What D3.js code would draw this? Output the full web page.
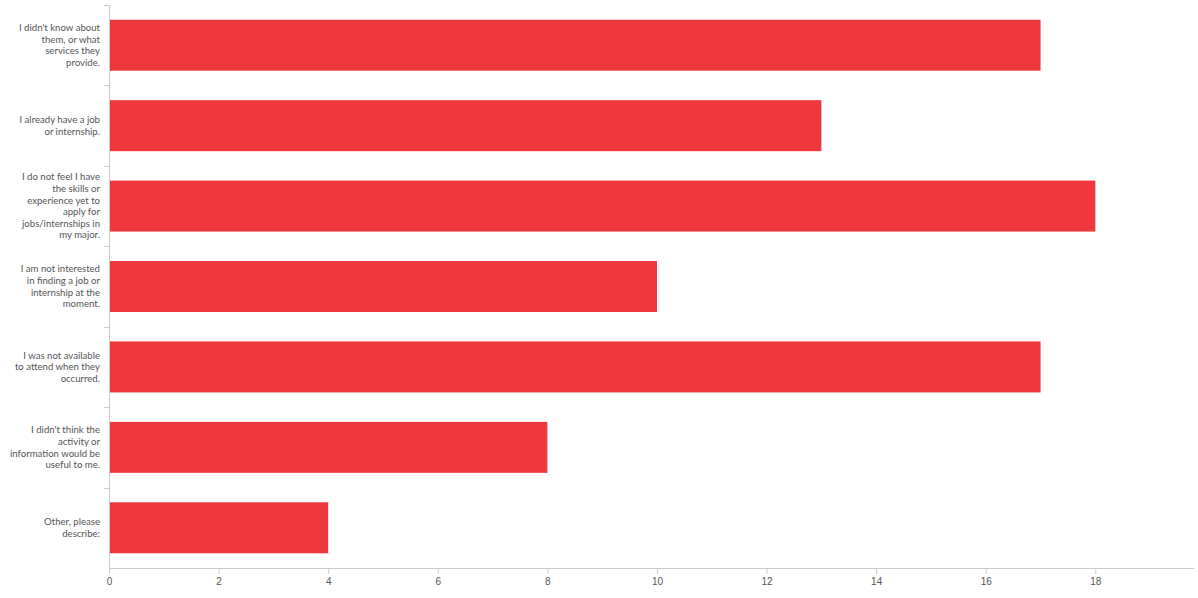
<!DOCTYPE html>
<html>
<head>
<meta charset="utf-8">
<script src="https://cdn.jsdelivr.net/npm/d3@7"></script>
<style>
  body { margin: 0; background: #fff; }
  svg { display: block; font-family: Lato, "Noto Sans", sans-serif; }
  .lbl { fill: #555; font-size: 9.6px; }
  .tick text { fill: #555; font-size: 10px; }
</style>
</head>
<body>
<div id="chart"></div>
<script>
// categories, already split into the lines shown on the chart
var categories = [
  ["I didn't know about", "them, or what", "services they", "provide."],
  ["I already have a job", "or internship."],
  ["I do not feel I have", "the skills or", "experience yet to", "apply for", "jobs/internships in", "my major."],
  ["I am not interested", "in finding a job or", "internship at the", "moment."],
  ["I was not available", "to attend when they", "occurred."],
  ["I didn't think the", "activity or", "information would be", "useful to me."],
  ["Other, please", "describe:"]
];
var values = [17, 13, 18, 10, 17, 8, 4];
var xTicks = [0, 2, 4, 6, 8, 10, 12, 14, 16, 18];
var xMax = 19.8;

var W = 1198, H = 598;
var margin = {top: 5, right: 4, bottom: 30, left: 109};
var width = W - margin.left - margin.right,
    height = H - margin.top - margin.bottom;

var svg = d3.select("#chart").append("svg")
  .attr("width", W).attr("height", H);
var g = svg.append("g").attr("transform", "translate(" + margin.left + "," + margin.top + ")");

var ids = d3.range(categories.length);
var y = d3.scaleBand().domain(ids).range([0, height])
  .paddingInner(0.366).paddingOuter(0.183);
var x = d3.scaleLinear().domain([0, xMax]).range([0, width]);

// bars
g.selectAll("rect.bar")
  .data(ids)
  .enter().append("rect")
  .attr("class", "bar")
  .attr("x", 0)
  .attr("y", function(i) { return y(i); })
  .attr("width", function(i) { return x(values[i]); })
  .attr("height", y.bandwidth())
  .attr("fill", "#ef383d");

// y axis line + ticks at band edges
g.append("line")
  .attr("x1", 0.5).attr("x2", 0.5).attr("y1", 0).attr("y2", height)
  .attr("stroke", "#ccc");
var step = y.step();
g.selectAll("line.ytick")
  .data(d3.range(categories.length))
  .enter().append("line")
  .attr("class", "ytick")
  .attr("x1", -5).attr("x2", 0.5)
  .attr("y1", function(i) { return Math.round(i * step) + 0.5; })
  .attr("y2", function(i) { return Math.round(i * step) + 0.5; })
  .attr("stroke", "#ccc");

// category labels
var lh = 11.6;
g.selectAll("text.lbl")
  .data(ids)
  .enter().append("text")
  .attr("class", "lbl")
  .attr("text-anchor", "end")
  .attr("transform", function(i) {
    var n = categories[i].length;
    var cy = y(i) + y.bandwidth() / 2 - (n - 1) * lh / 2;
    return "translate(-9," + cy + ")";
  })
  .selectAll("tspan")
  .data(function(i) { return categories[i]; })
  .enter().append("tspan")
  .attr("x", 0)
  .attr("y", function(d, j) { return j * lh; })
  .attr("dy", "0.35em")
  .text(function(d) { return d; });

// x axis
var xAxis = d3.axisBottom(x).tickValues(xTicks).tickSize(6).tickSizeOuter(0).tickPadding(4);
var ax = g.append("g")
  .attr("transform", "translate(0," + height + ")")
  .call(xAxis);
ax.select(".domain").attr("stroke", "#ccc");
ax.selectAll(".tick line").attr("stroke", "#ccc");
</script>
</body>
</html>
